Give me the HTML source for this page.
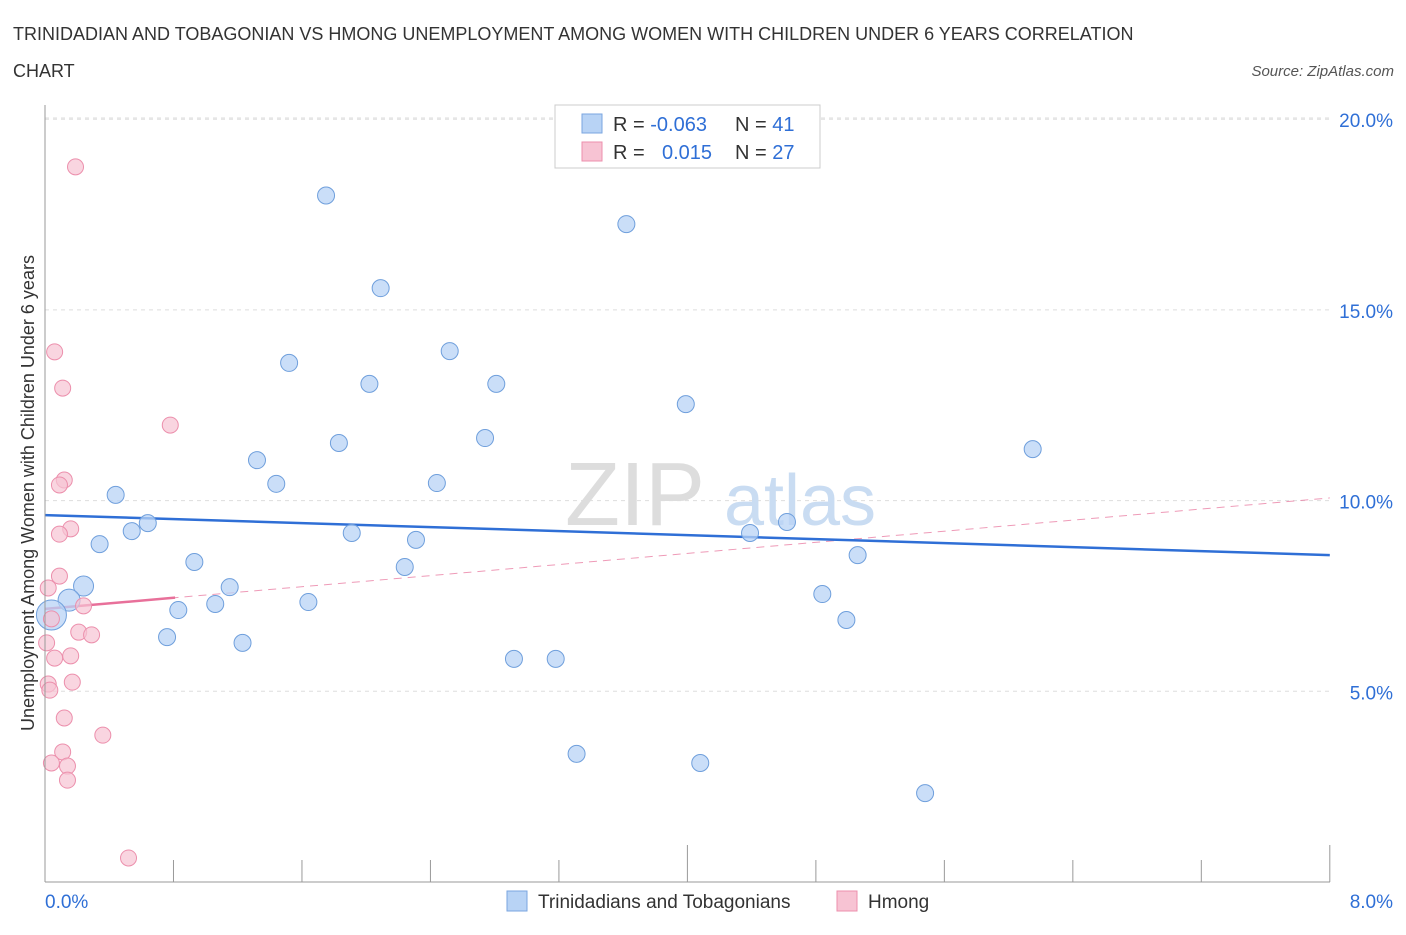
<!DOCTYPE html>
<html><head><meta charset="utf-8"><style>
body{margin:0;background:#fff;font-family:"Liberation Sans",sans-serif;}
svg text{font-family:"Liberation Sans",sans-serif;}
</style></head><body>
<svg id="chart" width="1406" height="930" viewBox="0 0 1406 930" xmlns="http://www.w3.org/2000/svg">
<text x="13" y="40" font-size="18" fill="#333">TRINIDADIAN AND TOBAGONIAN VS HMONG UNEMPLOYMENT AMONG WOMEN WITH CHILDREN UNDER 6 YEARS CORRELATION</text>
<text x="13" y="77" font-size="18" fill="#333">CHART</text>
<text x="1394" y="76" font-size="15" fill="#555" font-style="italic" text-anchor="end">Source: ZipAtlas.com</text>
<g id="grid"></g>
<g><text x="635" y="525" font-size="90" fill="#ddd" font-family="Liberation Serif" text-anchor="middle">ZIP</text><text x="800" y="525" font-size="72" fill="#c9dcf2" text-anchor="middle">atlas</text></g>
<g id="lines"></g>
<g id="pts"></g>
<g id="axes"></g>
<text transform="translate(34,493) rotate(-90)" font-size="18" fill="#333" text-anchor="middle">Unemployment Among Women with Children Under 6 years</text>
<g>
<rect x="555" y="105" width="265" height="63" fill="#fff" stroke="#ccc"/>
<rect x="582" y="114" width="20" height="19" fill="#b8d3f5" stroke="#7aa6e0"/>
<rect x="582" y="142" width="20" height="19" fill="#f7c3d3" stroke="#ec8fac"/>
<text x="613" y="131" font-size="20" fill="#333">R = <tspan fill="#2f6fd6">-0.063</tspan></text>
<text x="735" y="131" font-size="20" fill="#333">N = <tspan fill="#2f6fd6">41</tspan></text>
<text x="613" y="159" font-size="20" fill="#333">R = <tspan fill="#2f6fd6" x="662">0.015</tspan></text>
<text x="735" y="159" font-size="20" fill="#333">N = <tspan fill="#2f6fd6">27</tspan></text>
</g>
<g>
<rect x="507" y="891" width="20" height="20" fill="#b8d3f5" stroke="#7aa6e0"/>
<text x="538" y="908" font-size="19" fill="#333">Trinidadians and Tobagonians</text>
<rect x="837" y="891" width="20" height="20" fill="#f7c3d3" stroke="#ec8fac"/>
<text x="868" y="908" font-size="19" fill="#333">Hmong</text>
</g>
</svg>
<script>
const blueX=[1.75,3.62,2.09,2.52,1.52,2.02,2.81,3.99,1.83,2.74,1.32,6.15,1.44,2.44,0.44,0.64,0.54,1.91,4.39,4.62,0.34,2.31,0.93,5.06,2.24,0.24,1.15,0.15,4.84,1.64,1.06,0.83,0.04,4.99,0.76,1.23,2.92,3.18,3.31,4.08,5.48];
const blueY=[18.0,17.25,15.57,13.92,13.61,13.06,13.06,12.53,11.51,11.64,11.06,11.35,10.44,10.46,10.15,9.41,9.2,9.15,9.15,9.44,8.86,8.97,8.39,8.57,8.26,7.76,7.73,7.39,7.55,7.34,7.29,7.13,7.0,6.87,6.42,6.27,5.85,5.85,3.36,3.12,2.33];
const pinkX=[0.19,0.06,0.11,0.78,0.12,0.09,0.16,0.09,0.09,0.02,0.24,0.04,0.21,0.29,0.06,0.16,0.02,0.17,0.03,0.12,0.36,0.11,0.04,0.14,0.14,0.52,0.01];
const pinkY=[18.75,13.9,12.95,11.98,10.54,10.41,9.26,9.12,8.02,7.71,7.24,6.9,6.55,6.48,5.87,5.93,5.19,5.24,5.03,4.3,3.85,3.41,3.12,3.04,2.67,0.63,6.27];
const blueTrend=[9.62,8.57];
const pinkTrend=[7.16,10.07];
const pinkSolidEnd=0.81;
const yTicks=[5,10,15,20];
const yTickLabels=["5.0%","10.0%","15.0%","20.0%"];
const xTickLabels=["0.0%","8.0%"];
const X=v=>45+v*160.6, Y=v=>882-v*38.14;
const NS="http://www.w3.org/2000/svg";
function mk(tag,attrs,parent){const e=document.createElementNS(NS,tag);for(const k in attrs)e.setAttribute(k,attrs[k]);document.getElementById(parent).appendChild(e);return e;}
yTicks.forEach((t,i)=>{
 const g=mk('line',{x1:45,x2:1330,y1:Y(t),y2:Y(t),stroke:'#ddd','stroke-dasharray':'4,4'},'grid');
 
 
 const l=mk('text',{x:1393,y:Y(t)+8,'font-size':19,fill:'#2f6fd6','text-anchor':'end'},'axes');
 l.textContent=yTickLabels[i];
 
 
});
const topG=mk('line',{x1:45,x2:1330,y1:118,y2:118,stroke:'#ddd','stroke-dasharray':'4,4'},'grid');


const ya=mk('line',{x1:45,x2:45,y1:105,y2:882,stroke:'#999'},'axes');


const xa=mk('line',{x1:45,x2:1330,y1:882,y2:882,stroke:'#999'},'axes');


for(let i=0;i<=10;i++){const t=mk('line',{x1:X(i*0.8),x2:X(i*0.8),y1:882,y2:(i==5||i==10)?845:860,stroke:'#999'},'axes');
 
 }
[[0,45,'start'],[8,1393,'end']].forEach((d,i)=>{const t=mk('text',{x:d[1],y:908,'font-size':19,fill:'#2f6fd6','text-anchor':d[2]},'axes');t.textContent=xTickLabels[i];
 
 });
const pd=mk('line',{x1:X(0),y1:Y(pinkTrend[0]),x2:X(8),y2:Y(pinkTrend[1]),stroke:'#e8709a','stroke-dasharray':'8,6','stroke-width':1,opacity:0.7},'lines');


const ps=mk('line',{x1:X(0),y1:Y(pinkTrend[0]),x2:X(pinkSolidEnd),y2:Y(pinkTrend[0]+(pinkTrend[1]-pinkTrend[0])*pinkSolidEnd/8),stroke:'#e8709a','stroke-width':2.5},'lines');


const bl=mk('line',{x1:X(0),y1:Y(blueTrend[0]),x2:X(8),y2:Y(blueTrend[1]),stroke:'#2f6fd6','stroke-width':2.5},'lines');


blueX.forEach((x,i)=>{const r=i==32?15:(i==27?11:(i==25?10:8.5));
 const c=mk('circle',{cx:X(x),cy:Y(blueY[i]),r:r,fill:'#b8d3f5','fill-opacity':0.75,stroke:'#6f9fdc','stroke-width':1},'pts');
 
 });
pinkX.forEach((x,i)=>{const c=mk('circle',{cx:X(x),cy:Y(pinkY[i]),r:8,fill:'#f7c3d3','fill-opacity':0.7,stroke:'#ec8fac','stroke-width':1},'pts');
 
 });
</script>
</body></html>
